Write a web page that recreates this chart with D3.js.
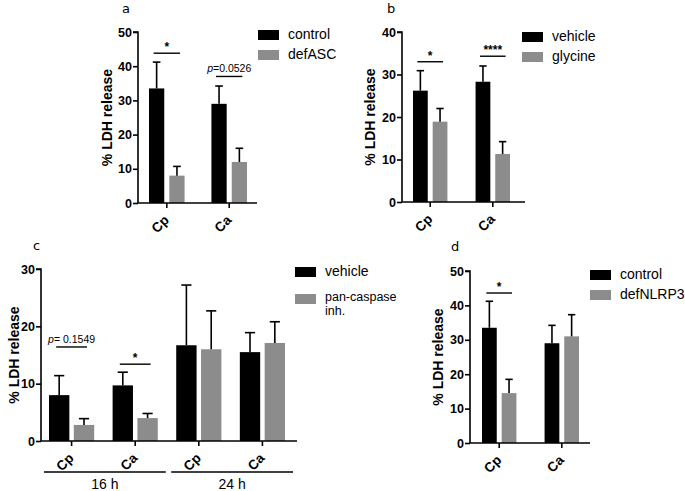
<!DOCTYPE html>
<html><head><meta charset="utf-8">
<script src="https://cdn.jsdelivr.net/npm/d3@7"></script>
<style>
body{margin:0;background:#fff;}
svg{display:block;font-family:"Liberation Sans",Arial,sans-serif;}
</style></head>
<body><svg id="c" width="685" height="491"></svg>
<script>
// ---- data ----
const catsA = ["Cp","Ca"];
const seriesA = ["control","defASC"];
const meanA = [[33.5,29.0],[8.0,12.0]];
const errA = [[41.2,34.2],[10.7,16.0]];
const ticksA = [0,10,20,30,40,50];

const catsB = ["Cp","Ca"];
const seriesB = ["vehicle","glycine"];
const meanB = [[26.2,28.3],[18.9,11.3]];
const errB = [[30.9,32.0],[22.0,14.2]];
const ticksB = [0,10,20,30,40];

const catsC = ["Cp","Ca","Cp","Ca"];
const groupsC = ["16 h","24 h"];
const seriesC = ["vehicle","pan-caspase|inh."];
const meanC = [[8.0,9.7,16.7,15.5],[2.8,4.0,16.0,17.1]];
const errC = [[11.4,12.0,27.2,18.9],[3.9,4.8,22.7,20.8]];
const ticksC = [0,10,20,30];

const catsD = ["Cp","Ca"];
const seriesD = ["control","defNLRP3"];
const meanD = [[33.5,29.0],[14.5,31.0]];
const errD = [[41.2,34.2],[18.5,37.3]];
const ticksD = [0,10,20,30,40,50];

// significance: [category index, y value, label]
const sigA = [[0,43.8,"*"],[1,37.0,"p=0.0526"]];
const sigB = [[0,33.0,"*"],[1,34.3,"****"]];
const sigC = [[0,16.4,"p= 0.1549"],[1,13.4,"*"]];
const sigD = [[0,43.6,"*"]];

const colors = ["#000000","#8c8c8c"];
const svg = d3.select("#c");

function panel(o){
  const g = svg.append("g");
  const y = d3.scaleLinear().domain([0,o.ticks[o.ticks.length-1]]).range([o.y0,o.y1]);
  const x0 = d3.scaleBand().domain(d3.range(o.cats.length)).range([o.x0+o.padL,o.x1-o.padR]).paddingInner(o.pi).paddingOuter(0);
  const x1 = d3.scaleBand().domain(d3.range(o.series.length)).range([0,x0.bandwidth()]).paddingInner(o.gap);
  // y axis
  const ya = g.append("g").attr("transform",`translate(${o.x0},0)`)
    .call(d3.axisLeft(y).tickValues(o.ticks).tickSize(5).tickPadding(1).tickFormat(d3.format("d")));
  ya.select(".domain").attr("stroke","#000").attr("stroke-width",1.6).attr("d",`M-5,${o.y1}H0V${o.y0}`);
  ya.selectAll(".tick line").attr("stroke-width",1.6);
  ya.selectAll("text").attr("font-size",12.5).attr("font-weight","bold").attr("fill","#000").attr("font-family","Liberation Sans, Arial");
  // bars
  o.series.forEach((s,si)=>{
    o.cats.forEach((c,ci)=>{
      const bx = x0(ci)+x1(si), bw = x1.bandwidth();
      g.append("rect").attr("x",bx).attr("y",y(o.mean[si][ci])).attr("width",bw)
        .attr("height",y(0)-y(o.mean[si][ci])).attr("fill",colors[si]);
      const cx = bx+bw/2;
      g.append("line").attr("x1",cx).attr("x2",cx).attr("y1",y(o.mean[si][ci])).attr("y2",y(o.err[si][ci]))
        .attr("stroke","#000").attr("stroke-width",1.6);
      g.append("line").attr("x1",cx-bw*0.25).attr("x2",cx+bw*0.25).attr("y1",y(o.err[si][ci])).attr("y2",y(o.err[si][ci]))
        .attr("stroke","#000").attr("stroke-width",1.6);
    });
  });
  // x axis
  g.append("line").attr("x1",o.x0).attr("x2",o.x1).attr("y1",o.y0).attr("y2",o.y0).attr("stroke","#000").attr("stroke-width",1.6);
  o.cats.forEach((c,ci)=>{
    const cx = x0(ci)+x0.bandwidth()/2;
    g.append("line").attr("x1",cx).attr("x2",cx).attr("y1",o.y0).attr("y2",o.y0+5).attr("stroke","#000").attr("stroke-width",1.6);
    g.append("text").attr("transform",`translate(${cx+3},${o.y0+18}) rotate(-45)`)
      .attr("text-anchor","end").attr("font-size",13.5).attr("font-weight","bold").text(c);
  });
  // significance
  o.sig.forEach(([ci,v,lab])=>{
    const xa = x0(ci)+x1(0)+x1.bandwidth()/2, xb = x0(ci)+x1(1)+x1.bandwidth()/2;
    const yy = y(v);
    g.append("line").attr("x1",xa-3).attr("x2",xb+3).attr("y1",yy).attr("y2",yy).attr("stroke","#000").attr("stroke-width",1.4);
    const t = g.append("text").attr("x",(xa+xb)/2).attr("y",yy-4).attr("text-anchor","middle");
    if(lab.startsWith("p")){
      t.attr("font-size",10.5);
      t.append("tspan").attr("font-style","italic").text("p");
      t.append("tspan").text(lab.slice(1));
    } else {
      t.attr("font-size",12).attr("font-weight","bold").attr("y",yy-2).text(lab);
    }
  });
  // y label
  g.append("text").attr("transform",`translate(${o.ylx},${(o.y0+o.y1)/2}) rotate(-90)`)
    .attr("text-anchor","middle").attr("font-size",14).attr("font-weight","bold").text("% LDH release");
  // letter
  g.append("text").attr("x",o.lx).attr("y",o.ly).attr("font-size",13).attr("font-family","DejaVu Sans, Liberation Sans").text(o.letter);
  // legend
  o.series.forEach((s,si)=>{
    const ly = o.legY + si*o.legStep;
    g.append("rect").attr("x",o.legX).attr("y",ly).attr("width",21).attr("height",10).attr("fill",colors[si]);
    const parts = s.split("|");
    parts.forEach((p,pi)=>{
      g.append("text").attr("x",o.legX+30).attr("y",ly+9+pi*14.5 - (parts.length>1?2.5:0)).attr("font-size",parts.length>1?12.5:14).text(p);
    });
  });
  return {x0,x1,y};
}

panel({cats:catsA,series:seriesA,mean:meanA,err:errA,ticks:ticksA,sig:sigA,
  x0:138,x1:257,y0:203,y1:32,padL:11,padR:10,pi:0.43,gap:0.25,ylx:112,lx:122,ly:13,letter:"a",
  legX:258,legY:30,legStep:20});
panel({cats:catsB,series:seriesB,mean:meanB,err:errB,ticks:ticksB,sig:sigB,
  x0:402,x1:525,y0:202,y1:32,padL:11,padR:15,pi:0.45,gap:0.25,ylx:375,lx:387,ly:13,letter:"b",
  legX:522,legY:32,legStep:20});
const pc = panel({cats:catsC,series:seriesC,mean:meanC,err:errC,ticks:ticksC,sig:sigC,
  x0:41,x1:297,y0:441,y1:269,padL:8,padR:12,pi:0.29,gap:0.18,ylx:19,lx:33,ly:250,letter:"c",
  legX:295,legY:267,legStep:27});
panel({cats:catsD,series:seriesD,mean:meanD,err:errD,ticks:ticksD,sig:sigD,
  x0:470,x1:590,y0:443,y1:271,padL:12,padR:11,pi:0.45,gap:0.25,ylx:443,lx:451,ly:251,letter:"d",
  legX:590,legY:270,legStep:20});

// group lines for panel c
const grp = svg.append("g");
groupsC.forEach((gname,gi)=>{
  const a = pc.x0(gi*2), b = pc.x0(gi*2+1)+pc.x0.bandwidth();
  const xa = a-5, xb = b+8;
  grp.append("line").attr("x1",xa).attr("x2",xb).attr("y1",472).attr("y2",472).attr("stroke","#000").attr("stroke-width",1.4);
  grp.append("text").attr("x",(xa+xb)/2).attr("y",489).attr("text-anchor","middle").attr("font-size",14).text(gname);
});
</script></body></html>
